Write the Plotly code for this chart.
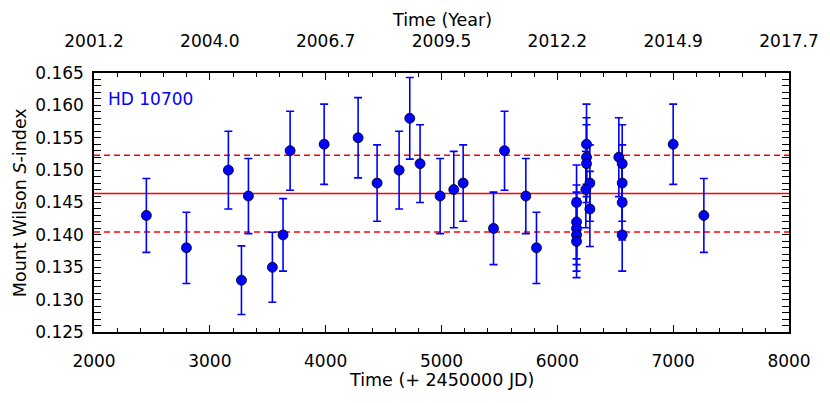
import numpy as np
import plotly.graph_objects as go

# Data
time_jd = [2452, 2798, 3160, 3273, 3333, 3540, 3632, 3693, 3987, 4280,
           4444, 4634, 4726, 4815, 4988, 5106, 5187, 5449, 5544, 5728,
           5820, 6166, 6166, 6166, 6166, 6166, 6252, 6252, 6252, 6281,
           6246, 6281, 6531, 6560, 6560, 6560, 6560, 7000, 7265]
s_index = [0.143, 0.138, 0.150, 0.133, 0.146, 0.135, 0.140, 0.153, 0.154, 0.155,
           0.148, 0.150, 0.158, 0.151, 0.146, 0.147, 0.148, 0.141, 0.153, 0.146,
           0.138, 0.145, 0.142, 0.141, 0.140, 0.139, 0.154, 0.152, 0.151, 0.148,
           0.147, 0.144, 0.152, 0.151, 0.148, 0.145, 0.140, 0.154, 0.143]
s_err = [0.0057, 0.0055, 0.0060, 0.0053, 0.0058, 0.0054, 0.0056, 0.0061, 0.0062, 0.0062,
         0.0059, 0.0060, 0.0063, 0.0060, 0.0058, 0.0059, 0.0059, 0.0056, 0.0061, 0.0058,
         0.0055, 0.0058, 0.0057, 0.0056, 0.0056, 0.0056, 0.0062, 0.0061, 0.0060, 0.0059,
         0.0059, 0.0058, 0.0061, 0.0060, 0.0059, 0.0058, 0.0056, 0.0062, 0.0057]
x_ticks = [2000, 3000, 4000, 5000, 6000, 7000, 8000]
year_labels = ["2001.2", "2004.0", "2006.7", "2009.5", "2012.2", "2014.9", "2017.7"]
star_name = "HD 10700"
x_title = "Time (+ 2450000 JD)"
x2_title = "Time (Year)"
y_title = "Mount Wilson <i>S</i>-index"

mean_s = float(np.mean(s_index))
std_s = float(np.std(s_index))

FONT = "DejaVu Sans"
TICK = dict(family=FONT, size=17, color="black")
TITLE = dict(family=FONT, size=17.5, color="black")

fig = go.Figure()

for val, dash in [(mean_s, "solid"), (mean_s + std_s, "6px,4px"), (mean_s - std_s, "6px,4px")]:
    fig.add_shape(type="line", xref="x domain", yref="y", x0=0, x1=1, y0=val, y1=val,
                  line=dict(color="red", width=1.5, dash=dash), layer="below")

fig.add_trace(go.Scatter(
    x=time_jd, y=s_index, mode="markers",
    error_y=dict(type="data", array=s_err, color="blue", thickness=1.6, width=4),
    marker=dict(color="blue", size=10, line=dict(color="black", width=0.8)),
    showlegend=False, hoverinfo="x+y"))

# invisible trace for the top axis
fig.add_trace(go.Scatter(x=[x_ticks[0], x_ticks[-1]], y=[None, None], xaxis="x2",
                         mode="markers", showlegend=False, hoverinfo="skip"))

fig.add_annotation(text=star_name, xref="paper", yref="paper", x=0.0168, y=0.9,
                   xanchor="left", yanchor="middle", showarrow=False,
                   font=dict(family=FONT, size=17, color="blue"))

# axis titles
fig.add_annotation(text=x_title, xref="paper", yref="paper", x=0.5, y=-0.1865,
                   xanchor="center", yanchor="middle", showarrow=False, font=TITLE)
fig.add_annotation(text=x2_title, xref="paper", yref="paper", x=0.5, y=1.206,
                   xanchor="center", yanchor="middle", showarrow=False, font=TITLE)
fig.add_annotation(text=y_title, xref="paper", yref="paper", x=-0.107, y=0.5,
                   xanchor="center", yanchor="middle", showarrow=False, textangle=-90, font=TITLE)

axis_common = dict(showline=True, linecolor="black", linewidth=1.5, mirror="allticks",
                   ticks="inside", tickcolor="black", tickwidth=1, ticklen=7,
                   showgrid=False, zeroline=False, automargin=False, tickfont=TICK)

fig.update_layout(
    width=814, height=387,
    margin=dict(l=86.3, r=33, t=64.5, b=62.5, autoexpand=False),
    paper_bgcolor="white", plot_bgcolor="white",
    xaxis=dict(range=[2000, 8000], tickvals=x_ticks, ticklabelstandoff=13,
               minor=dict(dtick=200, ticks="inside", ticklen=4, tickcolor="black", showgrid=False),
               **axis_common),
    xaxis2=dict(range=[2000, 8000], overlaying="x", side="top", tickvals=x_ticks,
                ticktext=year_labels, ticks="", showline=False, showgrid=False, zeroline=False,
                automargin=False, tickfont=TICK, ticklabelstandoff=22),
    yaxis=dict(range=[0.125, 0.165], dtick=0.005, tick0=0.125, tickformat=".3f",
               ticklabelstandoff=5,
               minor=dict(dtick=0.001, ticks="inside", ticklen=4, tickcolor="black", showgrid=False),
               **axis_common),
)

fig.write_html("out.html")
